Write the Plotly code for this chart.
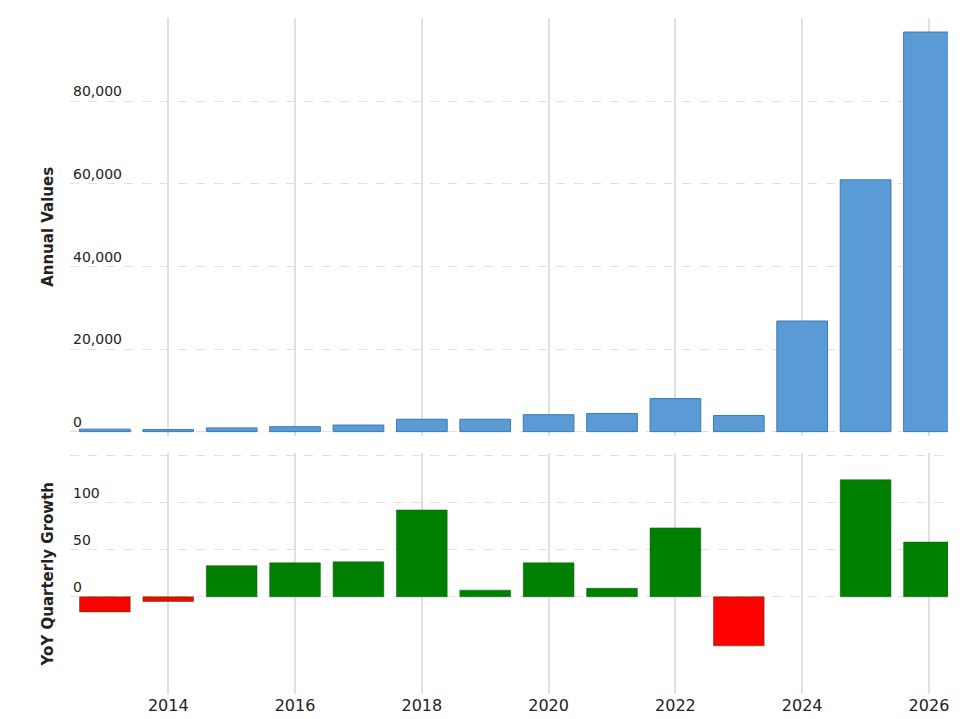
import plotly.graph_objects as go
from plotly.subplots import make_subplots

years = list(range(2013, 2027))
annual = [600, 500, 900, 1200, 1600, 3000, 3000, 4100, 4400, 8000, 3900, 26800, 61000, 96800]
growth = [-16, -5, 33, 36, 37, 92, 7, 36, 9, 73, -52, None, 124, 58]
gcolors = ["red" if (g is not None and g < 0) else "green" for g in growth]

fig = make_subplots(rows=2, cols=1, shared_xaxes=True, row_heights=[0.618, 0.356], vertical_spacing=0.026)
fig.add_trace(go.Bar(x=years, y=annual, marker=dict(color="#5b9bd5", line=dict(color="#3c78b4", width=1)), width=0.8), 1, 1)
fig.add_trace(go.Bar(x=years, y=growth, marker=dict(color=gcolors, line=dict(color="#0a5a0a", width=0.5)), width=0.8), 2, 1)

fig.update_layout(width=980, height=719, showlegend=False, plot_bgcolor="white", paper_bgcolor="white",
                  margin=dict(l=62, r=40, t=10, b=33), font=dict(family="DejaVu Sans", size=13, color="#222"))
grid = dict(showgrid=True, gridcolor="#e0e0e0", griddash="dash", zeroline=False,
            ticklabelposition="inside top", tickfont=dict(size=14, color="#222"))
fig.update_yaxes(range=[-1000, 100200], tickvals=[0, 20000, 40000, 60000, 80000, 100000],
                 ticktext=["0", "20,000", "40,000", "60,000", "80,000", ""],
                 title=dict(text="<b>Annual Values</b>", font=dict(size=15)), row=1, col=1, **grid)
fig.update_yaxes(range=[-103, 152], tickvals=[0, 50, 100, 150], ticktext=["0", "50", "100", ""],
                 title=dict(text="<b>YoY Quarterly Growth</b>", font=dict(size=15)), row=2, col=1, **grid)
fig.update_xaxes(range=[2012.45, 2026.3], showgrid=True, gridcolor="#e0e0e0", gridwidth=1.5,
                 tickvals=[2014, 2016, 2018, 2020, 2022, 2024, 2026], zeroline=False)
fig.update_xaxes(tickfont=dict(size=16, color="#222"), row=2, col=1)
fig.write_html("out.html")
